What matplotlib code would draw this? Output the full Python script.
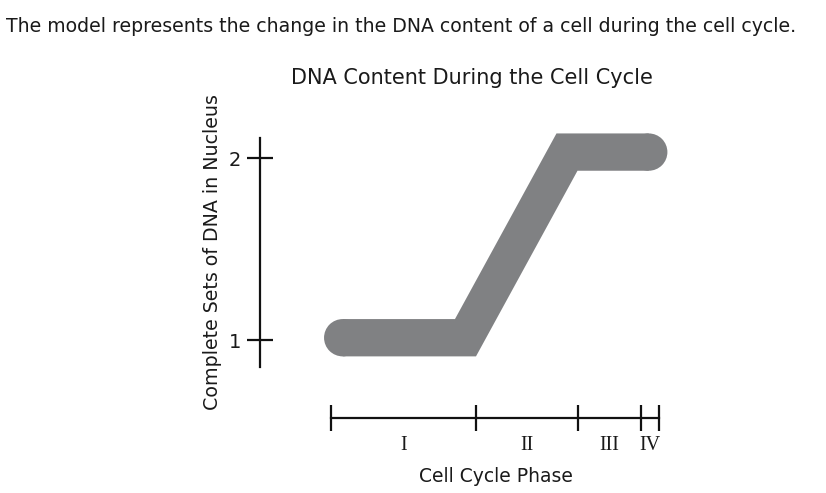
import matplotlib
matplotlib.use("Agg")
import matplotlib.pyplot as plt
from matplotlib.patches import Polygon, Ellipse
import numpy as np

# ---- data ----
caption = "The model represents the change in the DNA content of a cell during the cell cycle."
title = "DNA Content During the Cell Cycle"
x_label = "Cell Cycle Phase"
y_label = "Complete Sets of DNA in Nucleus"
phase_names = ["I", "II", "III", "IV"]
phase_durations = [10, 7, 4.4, 1.25]
dna_levels = [1.0, 2.02]          # DNA sets before / after replication (band centre)
y_ticks = [1, 2]
band_extent = [-0.48, 23.2]       # x range covered by the band (incl. round ends)

# ---- style ----
W, H, DPI = 826, 493, 100
band_color = "#808183"
band_lo, band_hi = -0.09, 0.115   # band edges relative to level
band_shift = 1.45                 # horizontal offset of upper edge of slanted part
txt_color = "#1a1a1a"

phase_edges = np.concatenate([[0], np.cumsum(phase_durations)])
phase_centers = (phase_edges[:-1] + phase_edges[1:]) / 2

fig = plt.figure(figsize=(W / DPI, H / DPI), dpi=DPI)
ax = fig.add_axes([0, 0, 1, 1])
ax.set_facecolor("none")

# pixel mapping: x=0 at px 331, 14.5 px/unit ; y=1 at px 340, 182 px/unit
px_x, x0px = 14.5, 331
px_y, y1px = 182, 340
ax.set_xlim(-x0px / px_x, (W - x0px) / px_x)
ax.set_ylim(1 - (H - y1px) / px_y, 1 + y1px / px_y)

# ---- band ----
lo1, hi1 = dna_levels[0] + band_lo, dna_levels[0] + band_hi
lo2, hi2 = dna_levels[1] + band_lo, dna_levels[1] + band_hi
half_h = (band_hi - band_lo) / 2
rx = half_h * px_y / px_x
xa = band_extent[0] + rx
xb = band_extent[1] - rx
b1, b2 = phase_edges[1], phase_edges[2]
verts = [(xa, lo1), (b1, lo1), (b2, lo2), (xb, lo2),
         (xb, hi2), (b2 - band_shift, hi2), (b1 - band_shift, hi1), (xa, hi1)]
ax.add_patch(Polygon(verts, closed=True, facecolor=band_color, edgecolor="none", zorder=2))
ax.add_patch(Ellipse((xa, (lo1 + hi1) / 2), 2 * rx, hi1 - lo1,
                     facecolor=band_color, edgecolor="none", zorder=2))
ax.add_patch(Ellipse((xb, (lo2 + hi2) / 2), 2 * rx, hi2 - lo2,
                     facecolor=band_color, edgecolor="none", zorder=2))

# ---- axes (spines) ----
for s in ["top", "right"]:
    ax.spines[s].set_visible(False)
lw = 1.6
ax.spines["left"].set_position(("data", (260 - x0px) / px_x))
ax.spines["left"].set_bounds(1 - (367 - y1px) / px_y, 1 + (y1px - 138) / px_y)
ax.spines["bottom"].set_position(("data", 1 - (418 - y1px) / px_y))
ax.spines["bottom"].set_bounds(phase_edges[0], phase_edges[-1])
for s in ["left", "bottom"]:
    ax.spines[s].set_linewidth(lw)
    ax.spines[s].set_color("#111111")

ax.set_yticks(y_ticks)
ax.set_yticklabels([str(t) for t in y_ticks])
ax.tick_params(axis="y", direction="inout", length=18.7, width=lw, color="#111111",
               labelsize=14, pad=4, labelcolor=txt_color)

ax.set_xticks(phase_edges)
ax.set_xticklabels([])
ax.set_xticks(phase_centers, minor=True)
ax.set_xticklabels(phase_names, minor=True, family="Liberation Serif", fontsize=14.5,
                   color=txt_color)
ax.tick_params(axis="x", which="major", direction="inout", length=18.7, width=lw,
               color="#111111")
ax.tick_params(axis="x", which="minor", length=0, pad=13)

# ---- labels ----
ax.set_xlabel(x_label, fontsize=13.5, color=txt_color)
ax.xaxis.set_label_coords(496 / W, 1 - 477 / H)
ax.xaxis.label.set_va("center")
ax.set_ylabel(y_label, fontsize=13.7, color=txt_color)
ax.yaxis.set_label_coords(212 / W, 1 - 252 / H)
ax.yaxis.label.set_va("center")

fig.text(472 / W, 1 - 78 / H, title, ha="center", va="center", fontsize=15, color=txt_color)
fig.text(6 / W, 1 - 27 / H, caption, ha="left", va="center", fontsize=13.6, color=txt_color)

fig.savefig("out.png", dpi=DPI)
